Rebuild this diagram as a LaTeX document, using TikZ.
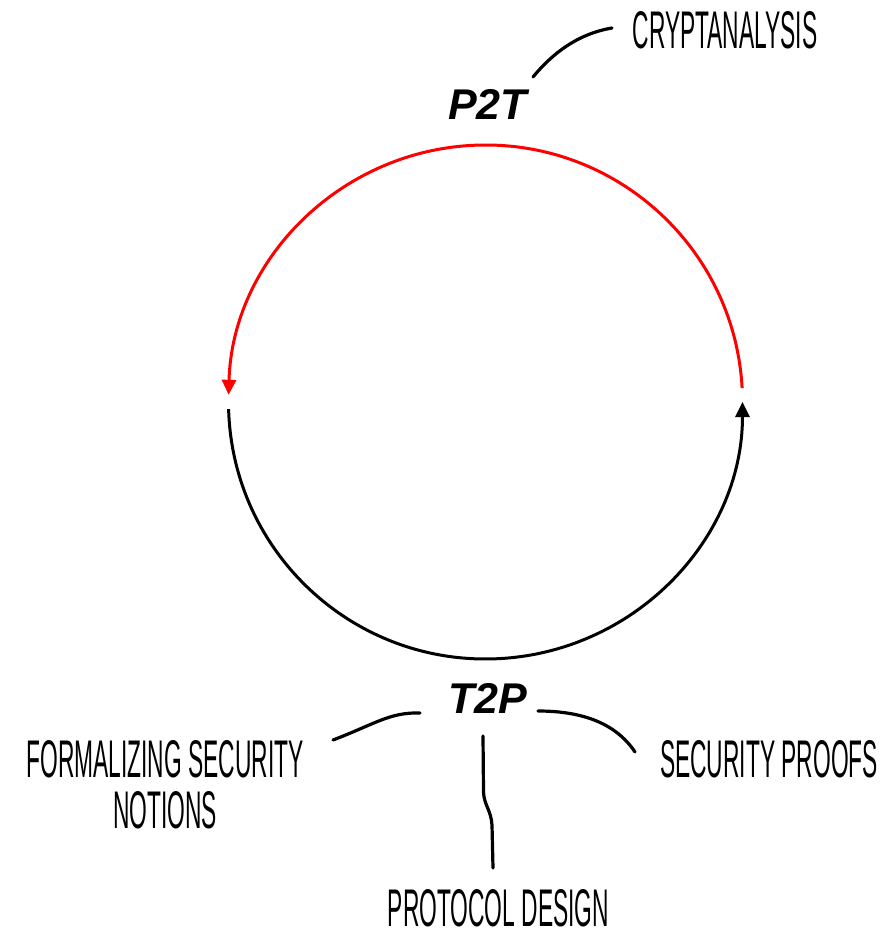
\documentclass[tikz,border=0pt]{standalone}
\usepackage{fontspec}
\newfontfamily\handfont[FakeStretch=0.43]{Liberation Sans}
\newfontfamily\arialfont{Liberation Sans}
\usetikzlibrary{arrows.meta}
\tikzset{
  cyclelabel/.style={inner sep=0pt, anchor=base, font=\arialfont\bfseries\itshape\fontsize{43}{45}\selectfont},
  handlabel/.style={inner sep=0pt, font=\handfont\fontsize{53}{51}\selectfont, align=center},
  leader/.style={line width=3.2pt, line cap=round, black},
  arcline/.style={line width=3pt},
  tip/.style={-{Triangle[length=15pt,width=14pt]}}
}
\begin{document}
\begin{tikzpicture}[x=1pt,y=1pt]
\useasboundingbox (0,0) rectangle (889,-939);
\coordinate (c) at (485.5,-402);
% cycle arcs
\draw[arcline, red, tip] ([shift={(3.1:257)}]c) arc[start angle=3.1, end angle=178.4, radius=257];
\draw[arcline, black, tip] ([shift={(181.6:257)}]c) arc[start angle=181.6, end angle=360, radius=257];
% labels
\node[cyclelabel] (p2t) at (487.5,-120) {P2T};
\node[cyclelabel] (t2p) at (487.5,-713) {T2P};
\node[handlabel, anchor=base] (crypt) at (725,-49) {CRYPTANALYSIS};
\node[handlabel, anchor=center] (formal) at (165,-785) {FORMALIZING SECURITY\\NOTIONS};
\node[handlabel, anchor=base] (proofs) at (769,-777) {SECURITY PROOFS};
\node[handlabel, anchor=base] (design) at (498.5,-926) {PROTOCOL DESIGN};
% leader end points
\coordinate (cryptA) at (533,-77);
\coordinate (cryptB) at (612,-28);
\coordinate (leftA) at (420,-713);
\coordinate (leftB) at (333,-740);
\coordinate (rightA) at (538,-711);
\coordinate (rightB) at (635,-752);
\coordinate (downA) at (483,-736);
\coordinate (downB) at (493,-868);
% leaders
\draw[leader] (cryptA) .. controls (552,-54) and (577,-34) .. (cryptB);
\draw[leader] (leftA) .. controls (390,-712) and (375,-724) .. (leftB);
\draw[leader] (rightA) .. controls (580,-711) and (615,-722) .. (rightB);
\draw[leader] (downA) -- (483.5,-792) .. controls (484,-805) and (491,-810) .. (492,-825) -- (downB);
\end{tikzpicture}
\end{document}
